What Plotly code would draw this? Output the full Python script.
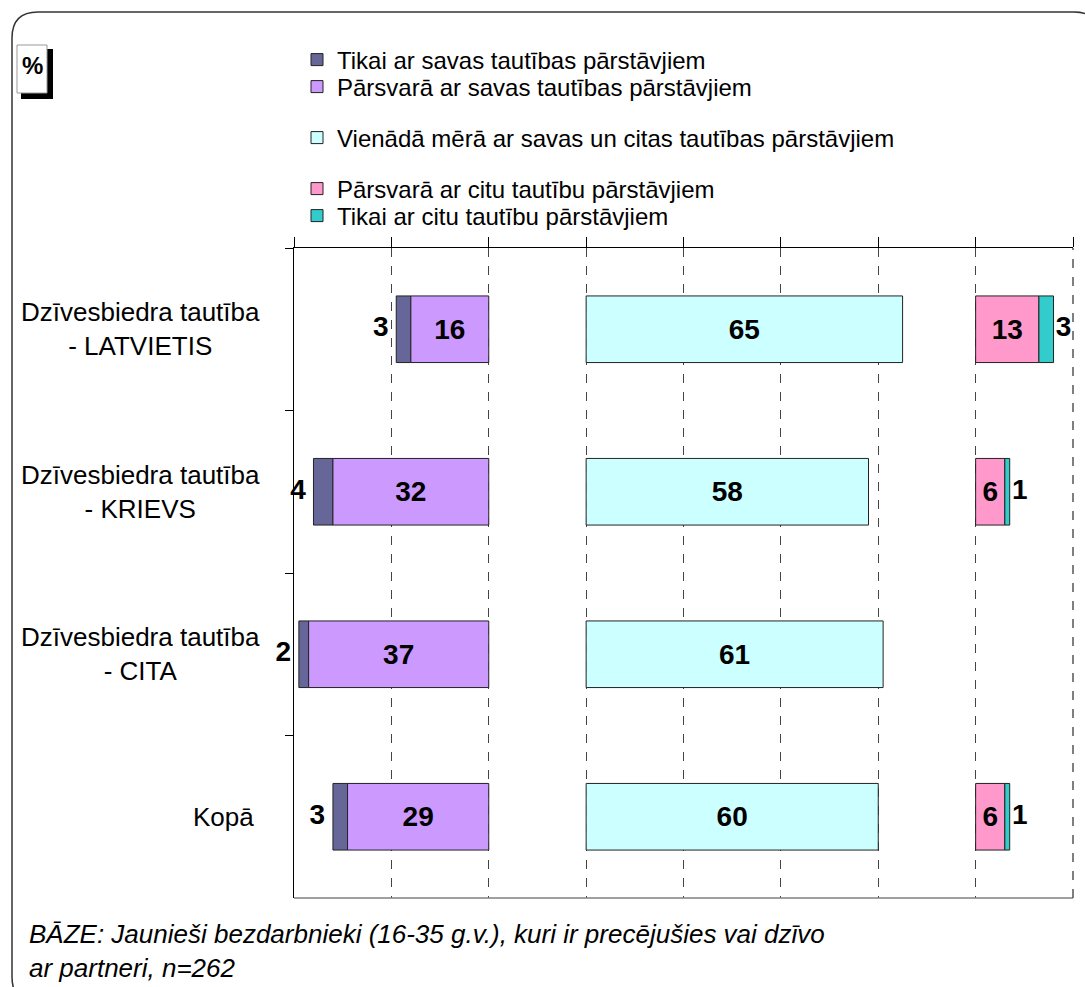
import plotly.graph_objects as go

# ---------------- data ----------------
categories = [
    "Dzīvesbiedra tautība<br>- LATVIETIS",
    "Dzīvesbiedra tautība<br>- KRIEVS",
    "Dzīvesbiedra tautība<br>- CITA",
    "Kopā",
]
series_names = [
    "Tikai ar savas tautības pārstāvjiem",
    "Pārsvarā ar savas tautības pārstāvjiem",
    "Vienādā mērā ar savas un citas tautības pārstāvjiem",
    "Pārsvarā ar citu tautību pārstāvjiem",
    "Tikai ar citu tautību pārstāvjiem",
]
only_own = [3, 4, 2, 3]
mostly_own = [16, 32, 37, 29]
equal_mix = [65, 58, 61, 60]
mostly_other = [13, 6, 0, 6]
only_other = [3, 1, 0, 1]
footnote = "BĀZE: Jaunieši bezdarbnieki (16-35 g.v.), kuri ir precējušies vai dzīvo<br>ar partneri, n=262"

# ---------------- styling / layout constants ----------------
colors = ["#666699", "#CC99FF", "#CCFFFF", "#FF99CC", "#33CCCC"]
LEFT_END, MID_START, RIGHT_START = 40, 60, 140
FONT = "Liberation Sans, Arial, sans-serif"
TXT = 26
LEG = 24
LBL = 28
W, H = 1085, 987
ML, MR, MT, MB = 294, 12, 248, 89
PW, PH = W - ML - MR, H - MT - MB


def px2x(px):
    return (px - ML) / PW


def py2y(py):
    return (H - MB - py) / PH


def lab(vals, pre="", post=""):
    return [f"{pre}{v}{post}" if v > 0 else "" for v in vals]


def nz(vals):
    return [v if v > 0 else None for v in vals]


line = dict(color="#222222", width=1)
lblfont = dict(size=LBL, color="black", family=FONT, weight="bold")
fig = go.Figure()

dark_base = [LEFT_END - m - o for o, m in zip(only_own, mostly_own)]
fig.add_trace(go.Bar(y=categories, x=nz(only_own), base=dark_base, orientation="h",
                     name=series_names[0], marker=dict(color=colors[0], line=line),
                     width=0.41, legend="legend"))
fig.add_trace(go.Bar(y=categories, x=nz(mostly_own), base=[LEFT_END - m for m in mostly_own],
                     orientation="h", name=series_names[1],
                     marker=dict(color=colors[1], line=line), width=0.41,
                     text=lab(mostly_own), textposition="inside", insidetextanchor="middle",
                     constraintext="none", textangle=0, textfont=lblfont,
                     legend="legend2"))
fig.add_trace(go.Bar(y=categories, x=nz(equal_mix), base=[MID_START] * len(equal_mix),
                     orientation="h", name=series_names[2],
                     marker=dict(color=colors[2], line=line), width=0.41,
                     text=lab(equal_mix), textposition="inside", insidetextanchor="middle",
                     constraintext="none", textangle=0, textfont=lblfont,
                     legend="legend3"))
fig.add_trace(go.Bar(y=categories, x=nz(mostly_other), base=[RIGHT_START] * len(mostly_other),
                     orientation="h", name=series_names[3],
                     marker=dict(color=colors[3], line=line), width=0.41,
                     text=lab(mostly_other), textposition="inside", insidetextanchor="middle",
                     constraintext="none", textangle=0, textfont=lblfont,
                     legend="legend4"))
teal_base = [RIGHT_START + m for m in mostly_other]
fig.add_trace(go.Bar(y=categories, x=nz(only_other), base=teal_base, orientation="h",
                     name=series_names[4], marker=dict(color=colors[4], line=line),
                     width=0.41, legend="legend5"))

# outside labels for the thin end segments
fig.add_trace(go.Scatter(y=categories, x=dark_base, mode="text",
                         text=lab(only_own, post="\u00a0"),
                         textposition="middle left", showlegend=False, cliponaxis=False,
                         textfont=lblfont, hoverinfo="skip"))
fig.add_trace(go.Scatter(y=categories, x=[b + v for b, v in zip(teal_base, only_other)],
                         mode="text", text=lab(only_other, pre="\u200a"),
                         textposition="middle right", showlegend=False, cliponaxis=False,
                         textfont=lblfont, hoverinfo="skip"))

# legends
legend_centers = [60, 87, 138, 189, 216]
legends = {}
for i, cy in enumerate(legend_centers):
    key = "legend" if i == 0 else f"legend{i + 1}"
    legends[key] = dict(x=px2x(297), y=py2y(cy), xanchor="left", yanchor="middle",
                        bgcolor="rgba(0,0,0,0)", borderwidth=0,
                        font=dict(size=LEG, family=FONT, color="black"))

# category labels
annotations = []
label_centers = [140, 140, 140, 223]
for c, cx in zip(categories, label_centers):
    annotations.append(dict(text=c, xref="paper", yref="y", x=px2x(cx), y=c,
                            xanchor="center", yanchor="middle", align="center",
                            showarrow=False,
                            font=dict(size=TXT, family=FONT, color="black")))
annotations.append(dict(text=footnote, xref="paper", yref="paper", x=px2x(27), y=py2y(917),
                        xanchor="left", yanchor="top", align="left", showarrow=False,
                        font=dict(size=TXT, family=FONT, color="black", style="italic")))
annotations.append(dict(text="%", xref="paper", yref="paper", x=px2x(32), y=py2y(65),
                        xanchor="center", yanchor="middle", showarrow=False,
                        font=dict(size=24, family=FONT, color="black", weight="bold")))


def rounded_rect(x0, y0, x1, y1, r):
    X = lambda p: px2x(p)
    Y = lambda p: py2y(p)
    return (f"M {X(x0 + r)},{Y(y0)} L {X(x1 - r)},{Y(y0)} Q {X(x1)},{Y(y0)} {X(x1)},{Y(y0 + r)} "
            f"L {X(x1)},{Y(y1 - r)} Q {X(x1)},{Y(y1)} {X(x1 - r)},{Y(y1)} "
            f"L {X(x0 + r)},{Y(y1)} Q {X(x0)},{Y(y1)} {X(x0)},{Y(y1 - r)} "
            f"L {X(x0)},{Y(y0 + r)} Q {X(x0)},{Y(y0)} {X(x0 + r)},{Y(y0)} Z")


shapes = [
    dict(type="path", xref="paper", yref="paper", path=rounded_rect(12, 12, 1100, 1003, 26),
         line=dict(color="#333333", width=1.5), layer="below"),
    dict(type="rect", xref="paper", yref="paper", x0=px2x(21), x1=px2x(53),
         y0=py2y(49), y1=py2y(99), fillcolor="black", line=dict(width=0)),
    dict(type="rect", xref="paper", yref="paper", x0=px2x(17), x1=px2x(47),
         y0=py2y(45), y1=py2y(93), fillcolor="white", line=dict(color="#999999", width=1)),
    dict(type="line", xref="paper", yref="paper", x0=0, x1=1, y0=0, y1=0,
         line=dict(color="#808080", width=1.5)),
    dict(type="line", xref="paper", yref="paper", x0=1, x1=1, y0=0, y1=1,
         line=dict(color="#555555", width=1.5, dash="dash")),
]

fig.update_layout(
    width=W, height=H, margin=dict(l=ML, r=MR, t=MT, b=MB, autoexpand=False),
    paper_bgcolor="white", plot_bgcolor="white",
    barmode="overlay", font=dict(family=FONT, color="black"),
    annotations=annotations, shapes=shapes, **legends,
    xaxis=dict(range=[0, 160], side="top", showline=True, linecolor="black", linewidth=1,
               ticks="outside", ticklen=10, tickcolor="black", tick0=0, dtick=20,
               showticklabels=False, showgrid=True, gridcolor="#444444", griddash="dash",
               gridwidth=1, zeroline=False, fixedrange=True),
    yaxis=dict(type="category", categoryorder="array", categoryarray=categories,
               autorange="reversed", showline=True, linecolor="black", linewidth=1,
               ticks="outside", tickson="boundaries", ticklen=8, tickcolor="black",
               showticklabels=False, showgrid=False, zeroline=False, fixedrange=True),
)

fig.write_html("out.html", config={"displayModeBar": False},
               post_script="document.body.style.margin='0px';")
